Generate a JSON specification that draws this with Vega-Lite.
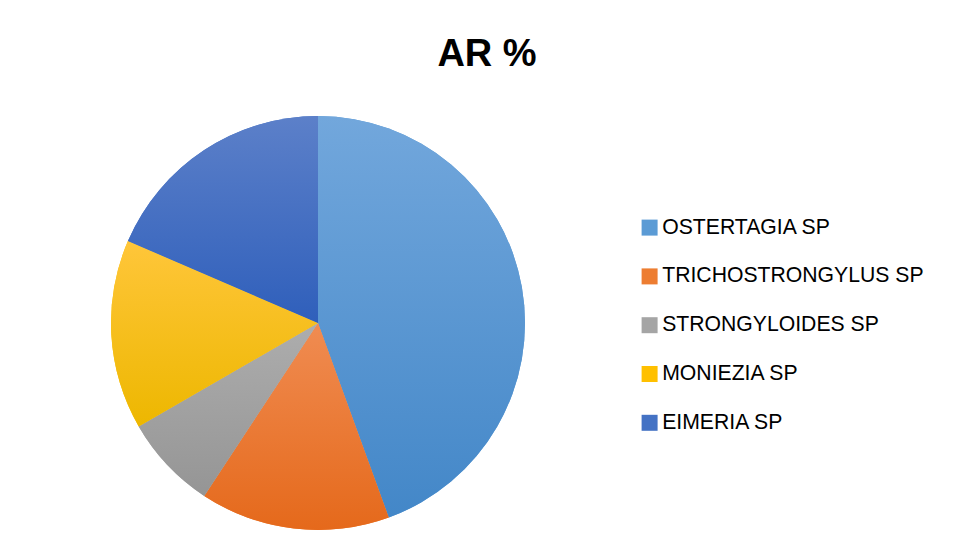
{
  "$schema": "https://vega.github.io/schema/vega-lite/v6.json",
  "autosize": {"type": "none"},
  "width": 414,
  "height": 414,
  "padding": {"left": 111, "top": 116, "right": 431, "bottom": 28},
  "background": "white",
  "title": {
    "text": "AR %",
    "font": "Liberation Sans",
    "fontSize": 38,
    "fontWeight": "bold",
    "color": "#000000",
    "anchor": "middle",
    "frame": "group",
    "baseline": "alphabetic",
    "offset": 12,
    "dx": 169
  },
  "data": {
    "values": [
      {"species": "OSTERTAGIA SP", "ar": 44.4, "idx": 1},
      {"species": "TRICHOSTRONGYLUS SP", "ar": 14.8, "idx": 2},
      {"species": "STRONGYLOIDES SP", "ar": 7.4, "idx": 3},
      {"species": "MONIEZIA SP", "ar": 14.8, "idx": 4},
      {"species": "EIMERIA SP", "ar": 18.5, "idx": 5}
    ]
  },
  "encoding": {
    "theta": {"field": "ar", "type": "quantitative", "stack": true},
    "order": {"field": "idx", "type": "quantitative"}
  },
  "layer": [
    {
      "mark": {"type": "arc", "strokeWidth": 0},
      "encoding": {
        "color": {
          "field": "species",
          "type": "nominal",
          "scale": {
            "domain": ["OSTERTAGIA SP", "TRICHOSTRONGYLUS SP", "STRONGYLOIDES SP", "MONIEZIA SP", "EIMERIA SP"],
            "range": ["#5B9BD5", "#ED7D31", "#A5A5A5", "#FFC000", "#4472C4"]
          },
          "legend": {
            "title": null,
            "orient": "none",
            "legendX": 528,
            "legendY": 101,
            "padding": 0,
            "symbolType": "square",
            "symbolSize": 256,
            "symbolStrokeWidth": 0,
            "symbolOpacity": 1,
            "labelFont": "Liberation Sans",
            "labelFontSize": 21.2,
            "labelColor": "#000000",
            "labelOffset": 2,
            "rowPadding": 26.8,
            "labelLimit": 400
          }
        }
      }
    },
    {
      "mark": {"type": "arc", "strokeWidth": 0, "fill": {"gradient": "linear", "x1": 0, "y1": 0, "x2": 0, "y2": 1, "stops": [{"offset": 0, "color": "#72A7DC"}, {"offset": 1, "color": "#4387C8"}]}},
      "encoding": {"opacity": {"condition": {"test": "datum.species === 'OSTERTAGIA SP'", "value": 1}, "value": 0}}
    },
    {
      "mark": {"type": "arc", "strokeWidth": 0, "fill": {"gradient": "linear", "x1": 0, "y1": 0, "x2": 0, "y2": 1, "stops": [{"offset": 0, "color": "#F08C52"}, {"offset": 1, "color": "#E5691B"}]}},
      "encoding": {"opacity": {"condition": {"test": "datum.species === 'TRICHOSTRONGYLUS SP'", "value": 1}, "value": 0}}
    },
    {
      "mark": {"type": "arc", "strokeWidth": 0, "fill": {"gradient": "linear", "x1": 0, "y1": 0, "x2": 0, "y2": 1, "stops": [{"offset": 0, "color": "#ADADAD"}, {"offset": 1, "color": "#959595"}]}},
      "encoding": {"opacity": {"condition": {"test": "datum.species === 'STRONGYLOIDES SP'", "value": 1}, "value": 0}}
    },
    {
      "mark": {"type": "arc", "strokeWidth": 0, "fill": {"gradient": "linear", "x1": 0, "y1": 0, "x2": 0, "y2": 1, "stops": [{"offset": 0, "color": "#FFC63A"}, {"offset": 1, "color": "#EDB700"}]}},
      "encoding": {"opacity": {"condition": {"test": "datum.species === 'MONIEZIA SP'", "value": 1}, "value": 0}}
    },
    {
      "mark": {"type": "arc", "strokeWidth": 0, "fill": {"gradient": "linear", "x1": 0, "y1": 0, "x2": 0, "y2": 1, "stops": [{"offset": 0, "color": "#5C80C9"}, {"offset": 1, "color": "#2F5FBB"}]}},
      "encoding": {"opacity": {"condition": {"test": "datum.species === 'EIMERIA SP'", "value": 1}, "value": 0}}
    }
  ],
  "config": {"view": {"stroke": null}}
}
